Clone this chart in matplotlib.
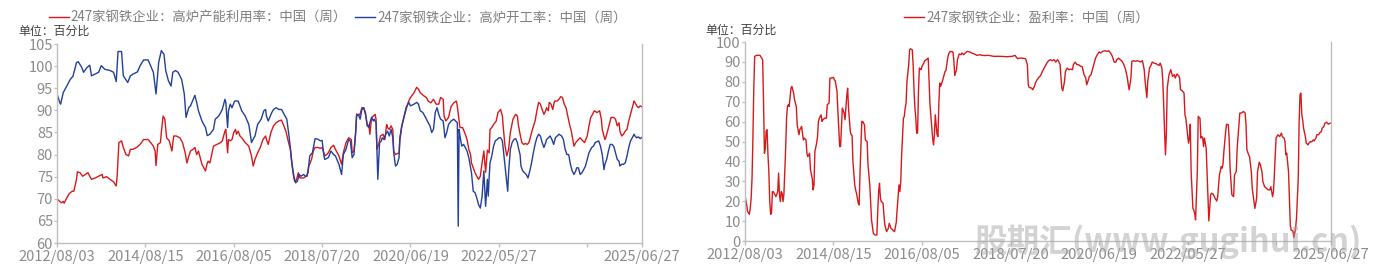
import matplotlib
matplotlib.use('Agg')
import matplotlib.pyplot as plt

plt.rcParams['font.family'] = ['Noto Sans CJK SC', 'DejaVu Sans']

# x is the weekly observation number counted from 2012/08/03
tick_pos = [0, 100, 200, 300, 400, 500, 600, 662]
tick_labels = ['2012/08/03', '2014/08/15', '2016/08/05', '2018/07/20',
               '2020/06/19', '2022/05/27', '', '2025/06/27']

# 247家钢铁企业：高炉产能利用率 (red)
util_x = [0, 3, 5, 7, 8, 11, 14, 17, 19, 22, 23, 26, 29, 32, 35, 37, 39, 43, 47, 51, 52, 56, 60, 64, 67, 68,
          70, 73, 75, 78, 81, 83, 86, 90, 94, 98, 103, 106, 109, 111, 112, 114, 117, 118, 120, 122, 124, 127,
          130, 132, 135, 139, 142, 145, 147, 149, 151, 154, 156, 158, 160, 164, 168, 170, 171, 173, 175, 177,
          181, 185, 187, 190, 191, 193, 194, 196, 198, 200, 202, 203, 205, 207, 209, 213, 217, 219, 220, 222,
          224, 227, 230, 233, 236, 237, 239, 242, 245, 248, 251, 254, 256, 259, 262, 264, 266, 268, 269, 271,
          273, 275, 279, 282, 284, 285, 288, 290, 292, 295, 298, 300, 303, 305, 307, 310, 313, 315, 319, 322,
          324, 327, 330, 333, 334, 336, 338, 339, 341, 343, 345, 347, 349, 351, 353, 354, 356, 358, 360, 361,
          362, 364, 366, 369, 371, 373, 374, 376, 378, 380, 381, 383, 387, 388, 390, 392, 395, 398, 400, 404,
          407, 409, 411, 415, 418, 420, 423, 426, 429, 432, 434, 437, 438, 440, 443, 446, 449, 452, 453, 455,
          456, 459, 462, 464, 466, 468, 469, 471, 473, 475, 477, 479, 481, 483, 485, 487, 489, 490, 492, 494,
          497, 499, 502, 504, 505, 507, 509, 511, 513, 516, 519, 521, 522, 524, 526, 528, 530, 532, 534, 536,
          538, 541, 543, 545, 547, 549, 551, 553, 554, 556, 557, 559, 561, 563, 566, 568, 570, 572, 574, 576,
          578, 580, 582, 584, 585, 587, 590, 592, 595, 597, 600, 602, 604, 605, 608, 611, 614, 616, 617, 620,
          621, 623, 625, 627, 630, 632, 634, 636, 637, 639, 641, 643, 645, 647, 649, 651, 653, 654, 656, 658,
          660, 662]
util_y = [70.0, 69.4, 69.1, 69.4, 69.0, 70.2, 71.2, 71.7, 71.7, 74.4, 76.1, 75.9, 75.1, 75.5, 75.9, 75.1, 74.4,
          74.7, 75.1, 75.5, 74.7, 75.0, 74.4, 73.8, 72.9, 75.1, 82.7, 83.1, 81.6, 80.0, 79.7, 81.2, 81.2, 81.6,
          82.3, 83.4, 83.4, 82.7, 81.9, 80.8, 77.5, 82.3, 82.7, 85.0, 88.7, 88.0, 83.8, 83.1, 80.8, 84.2, 84.2,
          83.8, 82.7, 80.4, 78.1, 79.6, 80.8, 81.2, 81.6, 80.0, 80.8, 77.8, 76.3, 78.1, 78.5, 78.1, 80.0, 81.9,
          82.3, 82.7, 83.1, 85.3, 85.7, 80.4, 83.4, 83.1, 83.4, 85.0, 85.7, 84.6, 85.3, 84.2, 83.8, 82.7, 81.9,
          80.4, 79.7, 77.4, 78.9, 80.4, 81.6, 83.4, 84.2, 83.4, 82.3, 85.0, 86.5, 87.2, 87.6, 87.8, 86.8, 85.3,
          82.7, 81.2, 77.4, 74.7, 73.9, 74.3, 75.9, 74.7, 74.7, 75.1, 75.9, 77.4, 78.9, 80.8, 81.6, 81.6, 81.4,
          81.6, 79.7, 80.0, 80.4, 81.6, 82.1, 81.2, 79.7, 77.8, 80.4, 82.7, 83.8, 83.4, 80.4, 80.8, 85.3, 89.2,
          88.8, 89.2, 90.6, 90.6, 89.1, 86.8, 86.5, 84.6, 88.4, 88.7, 89.1, 88.0, 81.2, 82.3, 84.2, 84.6, 83.4,
          86.8, 86.1, 85.7, 86.5, 85.7, 80.8, 80.0, 80.4, 83.8, 86.5, 88.0, 90.2, 92.1, 92.9, 94.0, 95.2, 94.8,
          94.0, 93.3, 92.9, 92.1, 91.7, 92.5, 91.4, 91.4, 92.9, 92.5, 88.7, 87.6, 88.4, 90.9, 91.7, 92.1, 90.9,
          87.6, 86.1, 86.1, 84.6, 83.4, 81.2, 80.0, 78.1, 77.0, 75.9, 75.1, 74.4, 75.1, 78.1, 80.8, 76.0, 81.0,
          80.4, 85.7, 86.1, 86.8, 87.6, 89.5, 90.2, 88.7, 86.1, 81.9, 79.7, 81.2, 85.0, 88.0, 89.1, 88.7, 86.8,
          84.6, 82.7, 82.3, 82.5, 82.3, 82.7, 84.2, 85.7, 87.6, 89.9, 91.8, 91.4, 90.2, 89.1, 89.9, 90.6, 89.9,
          91.8, 91.4, 90.2, 92.1, 92.1, 92.5, 93.1, 92.9, 91.4, 90.6, 88.7, 86.8, 85.3, 83.1, 81.9, 82.7, 83.4,
          83.8, 83.1, 82.7, 84.2, 86.5, 88.4, 88.7, 89.9, 89.5, 89.9, 88.0, 85.7, 83.4, 83.8, 85.3, 86.8, 88.4,
          88.4, 88.0, 86.5, 87.2, 85.3, 84.2, 84.6, 85.3, 85.7, 87.6, 89.1, 90.6, 92.1, 91.8, 91.0, 90.6, 91.0,
          90.8]

# 247家钢铁企业：高炉开工率 (blue)
blast_x = [0, 3, 4, 7, 11, 15, 18, 22, 24, 28, 30, 34, 37, 39, 43, 47, 50, 54, 60, 64, 67, 69, 73, 75, 80, 83,
           86, 91, 94, 98, 103, 105, 109, 112, 115, 118, 121, 123, 126, 129, 131, 134, 137, 141, 144, 146, 149,
           151, 156, 158, 160, 164, 168, 170, 173, 177, 179, 183, 187, 190, 191, 193, 194, 196, 198, 201, 205,
           207, 209, 213, 217, 219, 220, 222, 224, 227, 231, 234, 236, 237, 239, 243, 245, 248, 251, 254, 258,
           260, 262, 264, 266, 268, 270, 272, 274, 276, 279, 281, 283, 285, 286, 289, 292, 295, 298, 300, 302,
           303, 307, 310, 313, 315, 319, 322, 324, 327, 330, 332, 334, 336, 338, 339, 341, 343, 345, 347, 349,
           351, 353, 354, 356, 358, 359, 361, 362, 363, 365, 367, 368, 370, 372, 374, 376, 378, 380, 381, 383,
           385, 387, 388, 390, 392, 395, 398, 400, 404, 407, 409, 411, 414, 417, 419, 422, 424, 426, 428, 430,
           432, 434, 437, 439, 441, 443, 446, 449, 451, 453, 454, 455, 456, 458, 460, 462, 464, 466, 468, 469,
           471, 473, 475, 477, 479, 481, 483, 485, 487, 488, 489, 490, 492, 494, 496, 498, 500, 502, 504, 505,
           507, 509, 510, 511, 513, 515, 517, 519, 521, 522, 524, 525, 527, 529, 531, 533, 535, 537, 539, 541,
           543, 545, 547, 549, 551, 553, 554, 556, 558, 560, 562, 564, 566, 568, 571, 573, 575, 577, 579, 581,
           583, 585, 587, 588, 590, 592, 594, 596, 598, 600, 602, 605, 607, 609, 613, 615, 617, 619, 620, 622,
           624, 626, 628, 630, 632, 634, 636, 637, 639, 641, 643, 645, 647, 649, 651, 653, 654, 656, 658, 660,
           662]
blast_y = [93.7, 91.8, 91.4, 94.0, 95.5, 97.0, 97.7, 100.8, 101.0, 99.7, 98.6, 99.7, 100.2, 97.8, 98.2, 98.6,
           100.1, 99.3, 99.0, 98.6, 96.5, 103.3, 103.3, 97.8, 96.3, 97.8, 98.2, 98.7, 100.1, 101.4, 101.4, 100.5,
           98.6, 93.7, 100.8, 103.5, 102.7, 99.0, 96.7, 95.5, 98.6, 99.0, 98.6, 97.0, 93.7, 88.4, 90.6, 91.0,
           93.4, 91.8, 89.9, 87.6, 86.1, 84.3, 84.6, 85.7, 88.0, 88.7, 90.2, 92.5, 91.8, 86.1, 89.9, 91.4, 90.6,
           92.1, 92.1, 91.0, 89.9, 88.7, 86.8, 84.2, 82.7, 83.5, 84.2, 86.8, 88.0, 89.9, 90.2, 88.7, 87.6, 89.5,
           90.2, 90.6, 90.2, 90.2, 88.7, 88.0, 85.0, 81.6, 77.8, 75.1, 73.6, 74.0, 75.5, 75.1, 75.5, 75.1, 75.1,
           77.8, 79.7, 80.4, 83.6, 83.5, 83.1, 83.2, 79.7, 78.9, 79.3, 80.8, 80.0, 79.7, 77.8, 75.5, 80.0, 81.2,
           83.4, 83.0, 79.3, 80.0, 85.0, 88.7, 89.1, 88.0, 90.2, 90.6, 89.5, 86.5, 86.1, 87.2, 88.4, 87.6, 88.0,
           87.2, 81.2, 74.4, 82.7, 83.1, 83.8, 83.4, 84.6, 85.3, 84.2, 85.7, 83.8, 80.4, 77.4, 77.8, 79.3, 83.4,
           86.1, 88.0, 90.6, 91.8, 91.0, 91.4, 91.8, 91.4, 89.9, 89.5, 88.4, 87.6, 86.5, 85.0, 85.7, 89.5, 90.6,
           89.1, 88.0, 87.6, 83.8, 85.0, 86.8, 87.6, 88.0, 87.6, 87.2, 63.8, 85.7, 84.2, 81.9, 82.3, 81.6, 80.8,
           79.3, 77.0, 75.9, 71.7, 71.4, 70.2, 68.7, 67.9, 70.5, 76.3, 68.3, 74.4, 70.6, 74.8, 78.1, 79.7, 81.9,
           83.1, 83.4, 83.8, 83.8, 83.1, 81.2, 77.4, 73.6, 71.7, 75.9, 81.2, 82.7, 83.4, 83.6, 82.7, 81.6, 80.0,
           77.4, 76.3, 75.9, 75.5, 74.7, 76.3, 78.1, 80.4, 82.3, 83.8, 84.6, 84.2, 82.7, 81.6, 82.7, 83.4, 83.8,
           84.2, 83.4, 82.3, 83.8, 84.2, 84.6, 84.2, 83.4, 81.2, 80.0, 80.0, 77.8, 76.3, 75.5, 76.3, 77.0, 77.0,
           75.5, 75.9, 76.6, 77.4, 78.9, 80.4, 81.6, 81.9, 82.7, 83.1, 81.9, 80.0, 76.6, 77.8, 78.9, 80.8, 82.3,
           82.3, 81.9, 80.4, 78.9, 78.5, 77.4, 77.8, 77.8, 78.1, 79.7, 81.6, 83.1, 83.8, 84.6, 84.2, 83.8, 84.0,
           83.6, 83.9]

# 247家钢铁企业：盈利率 (red, right panel)
profit_x = [0, 2, 3, 5, 6, 7, 8, 9, 10, 11, 13, 17, 19, 20, 21, 22, 23, 24, 25, 26, 27, 28, 29, 30, 31, 32, 34,
            35, 37, 38, 39, 40, 41, 42, 43, 44, 46, 47, 48, 49, 50, 52, 53, 55, 56, 58, 59, 61, 62, 64, 65, 66,
            67, 69, 70, 71, 73, 74, 76, 77, 78, 79, 81, 82, 83, 84, 86, 87, 88, 90, 92, 93, 95, 96, 98, 100, 101,
            102, 104, 105, 107, 108, 109, 110, 112, 113, 115, 116, 117, 119, 120, 121, 122, 124, 125, 126, 128,
            129, 130, 132, 133, 135, 136, 138, 139, 141, 143, 145, 147, 149, 150, 151, 152, 153, 154, 156, 157,
            158, 160, 162, 163, 165, 167, 169, 171, 172, 174, 175, 176, 177, 179, 180, 181, 182, 183, 185, 186,
            187, 189, 190, 191, 192, 193, 194, 195, 196, 197, 199, 200, 202, 203, 205, 207, 208, 209, 211, 212,
            213, 214, 215, 217, 218, 219, 220, 221, 223, 224, 226, 227, 229, 230, 232, 235, 236, 237, 239, 240,
            242, 244, 245, 247, 249, 251, 254, 256, 259, 262, 265, 268, 271, 275, 281, 288, 296, 302, 305, 308,
            310, 313, 317, 319, 320, 321, 324, 325, 327, 328, 330, 332, 334, 336, 338, 339, 341, 343, 345, 347,
            349, 351, 353, 354, 356, 357, 358, 359, 361, 362, 364, 366, 368, 370, 371, 373, 375, 377, 379, 381,
            383, 385, 386, 388, 389, 391, 392, 394, 396, 398, 400, 402, 404, 407, 409, 411, 413, 415, 417, 419,
            420, 422, 424, 426, 428, 430, 432, 433, 434, 436, 437, 439, 441, 443, 445, 447, 449, 451, 452, 454,
            455, 457, 459, 460, 462, 464, 466, 468, 469, 471, 472, 473, 474, 475, 476, 477, 479, 481, 483, 485,
            486, 488, 490, 491, 492, 494, 496, 497, 498, 499, 501, 502, 503, 504, 506, 507, 508, 509, 511, 512,
            514, 515, 516, 517, 518, 519, 521, 522, 523, 524, 526, 527, 529, 531, 533, 534, 535, 536, 538, 539,
            540, 541, 543, 544, 546, 547, 548, 550, 552, 553, 554, 555, 556, 558, 559, 561, 563, 565, 566, 567,
            569, 570, 572, 573, 575, 576, 578, 579, 581, 582, 584, 585, 587, 589, 591, 593, 594, 596, 597, 598,
            599, 600, 602, 604, 606, 607, 609, 610, 611, 612, 614, 615, 616, 617, 619, 620, 621, 622, 623, 625,
            626, 627, 628, 629, 630, 631, 633, 634, 636, 637, 639, 640, 642, 643, 645, 646, 648, 649, 651, 652,
            654, 655, 657, 659, 661, 662]
profit_y = [23.2, 18.1, 14.8, 13.4, 16.4, 21.5, 31.5, 51.7, 76.8, 92.8, 93.3, 93.3, 91.9, 91.1, 70.0, 44.1,
            46.6, 55.4, 55.9, 43.3, 34.9, 19.8, 13.4, 13.9, 24.8, 24.8, 23.2, 22.3, 24.8, 34.1, 23.2, 19.8, 24.8,
            24.0, 19.8, 23.5, 46.6, 61.7, 67.6, 68.5, 67.6, 76.8, 77.7, 74.3, 71.0, 67.6, 58.4, 53.4, 55.9, 57.6,
            54.2, 50.8, 51.7, 50.8, 44.1, 42.4, 44.1, 35.7, 31.5, 25.7, 28.2, 45.0, 49.2, 52.5, 60.1, 61.7, 63.4,
            60.1, 60.9, 61.7, 61.7, 68.5, 69.3, 81.9, 81.9, 82.2, 81.0, 80.5, 75.2, 65.1, 47.5, 47.5, 56.7, 66.8,
            64.3, 60.9, 72.7, 76.8, 66.8, 55.0, 53.4, 53.0, 39.9, 28.2, 25.7, 24.0, 19.0, 18.1, 34.9, 60.1, 60.1,
            58.4, 50.8, 50.0, 38.3, 28.2, 10.6, 3.9, 3.0, 3.0, 14.8, 24.8, 29.0, 21.5, 19.8, 19.0, 13.1, 8.1, 4.7,
            6.4, 8.9, 6.4, 5.5, 4.7, 9.7, 16.4, 28.2, 24.8, 29.9, 43.3, 61.7, 62.6, 66.8, 69.3, 80.2, 88.6, 96.1,
            96.6, 96.1, 88.6, 75.2, 66.8, 61.7, 54.2, 54.2, 75.2, 86.9, 86.1, 87.8, 89.4, 90.6, 91.1, 91.9, 80.0,
            68.5, 57.6, 51.7, 48.3, 53.4, 63.4, 53.4, 52.5, 68.5, 79.4, 77.7, 80.2, 81.9, 85.2, 85.6, 91.9, 94.0,
            95.3, 95.0, 90.3, 83.2, 86.1, 91.1, 94.0, 93.6, 94.5, 93.6, 94.5, 95.3, 95.0, 94.5, 94.0, 93.3, 93.6,
            93.3, 93.2, 93.3, 92.8, 92.8, 92.6, 92.8, 93.3, 91.6, 91.9, 91.9, 91.6, 88.6, 78.5, 77.2, 76.8, 76.0,
            77.7, 79.4, 81.0, 82.2, 83.2, 85.2, 86.9, 87.8, 89.4, 90.6, 91.1, 90.6, 91.1, 89.9, 91.1, 90.6, 88.6,
            81.9, 76.8, 75.5, 80.2, 85.2, 86.9, 86.1, 86.4, 86.1, 88.6, 89.9, 88.6, 88.6, 87.8, 87.6, 83.6, 81.9,
            78.5, 81.0, 82.7, 83.6, 85.2, 88.6, 91.9, 93.6, 95.0, 94.5, 95.3, 95.6, 95.3, 95.6, 94.5, 92.8, 89.9,
            89.9, 91.1, 91.9, 91.1, 90.3, 88.6, 86.1, 81.9, 78.5, 76.0, 81.9, 90.3, 90.6, 90.3, 90.6, 90.3, 90.0,
            90.6, 86.1, 80.2, 72.1, 80.2, 86.9, 88.6, 89.9, 89.4, 89.2, 88.6, 88.3, 89.4, 86.9, 80.2, 68.5, 55.0,
            43.3, 53.4, 76.8, 83.6, 86.1, 82.7, 83.6, 81.9, 83.9, 83.0, 81.9, 76.0, 75.5, 74.3, 63.4, 61.7, 57.6,
            49.2, 51.7, 58.7, 34.9, 16.4, 15.6, 13.9, 10.6, 34.9, 62.6, 61.7, 51.7, 52.5, 52.0, 47.5, 51.7, 46.6,
            34.9, 23.2, 10.1, 23.2, 24.0, 23.5, 21.5, 20.1, 22.3, 28.2, 33.2, 37.4, 36.6, 38.6, 45.0, 55.0, 58.7,
            58.4, 50.8, 36.6, 23.2, 22.3, 33.2, 34.1, 34.9, 46.6, 58.4, 64.3, 64.3, 65.1, 64.3, 58.4, 45.8, 43.3,
            42.4, 34.9, 26.5, 19.8, 16.4, 21.5, 34.9, 39.6, 38.6, 34.9, 29.9, 27.3, 26.5, 25.7, 25.7, 27.3, 22.3,
            24.8, 33.2, 43.3, 51.7, 53.4, 52.5, 54.2, 52.5, 51.7, 50.0, 43.3, 44.1, 34.9, 21.5, 8.1, 5.5, 5.0, 1.7,
            3.9, 6.4, 11.4, 31.5, 60.1, 73.5, 74.3, 63.4, 60.9, 56.7, 52.5, 49.2, 48.3, 49.2, 50.0, 49.8, 50.8,
            50.3, 51.7, 53.4, 53.4, 54.2, 55.0, 56.7, 57.6, 59.2, 59.7, 58.7, 59.2, 59.2]

RED = '#d7191c'
BLUE = '#22409a'
GRAY = '#8c8c8c'
AXIS = '#bfbfbf'

fig = plt.figure(figsize=(13.78, 2.71), dpi=100)
ax1 = fig.add_axes([0.0414, 0.1033, 0.4245, 0.7343])
ax2 = fig.add_axes([0.5406, 0.1107, 0.4253, 0.7343])


def style_axes(ax):
    for side in ['left', 'bottom', 'right']:
        ax.spines[side].set_color(AXIS)
        ax.spines[side].set_linewidth(1.0)
    ax.spines['top'].set_visible(False)
    ax.set_xlim(0, 662)
    ax.set_xticks(tick_pos)
    ax.set_xticklabels(tick_labels)
    ax.tick_params(axis='x', colors=AXIS, labelcolor=GRAY, labelsize=10.5, length=3, width=1, pad=2)
    ax.tick_params(axis='y', colors=AXIS, labelcolor=GRAY, labelsize=10.5, length=2, width=1, pad=1)


l1, = ax1.plot(util_x, util_y, color=RED, lw=1.0, label='247家钢铁企业：高炉产能利用率：中国（周）')
l2, = ax1.plot(blast_x, blast_y, color=BLUE, lw=1.0, label='247家钢铁企业：高炉开工率：中国（周）')
style_axes(ax1)
ax1.set_ylim(60, 105)
ax1.set_yticks(range(60, 106, 5))
ax1.legend(handles=[l1, l2], loc='center', bbox_to_anchor=(0.245, 0.934), bbox_transform=fig.transFigure,
           ncol=2, frameon=False, fontsize=9.6, handlelength=1.5, handletextpad=0.15, columnspacing=0.6,
           labelcolor='#7f7f7f')

l3, = ax2.plot(profit_x, profit_y, color=RED, lw=1.0, label='247家钢铁企业：盈利率：中国（周）')
style_axes(ax2)
ax2.set_ylim(0, 100)
ax2.set_yticks(range(0, 101, 10))
ax2.legend(handles=[l3], loc='center', bbox_to_anchor=(0.745, 0.934), bbox_transform=fig.transFigure,
           frameon=False, fontsize=9.6, handlelength=1.5, handletextpad=0.15, labelcolor='#7f7f7f')

fig.text(0.013, 0.885, '单位：百分比', fontsize=8.6, color='#404040', va='center')
fig.text(0.512, 0.89, '单位：百分比', fontsize=8.6, color='#404040', va='center')

# watermark
fig.text(0.707, 0.107, '股期汇(www.gugihui.cn)', fontsize=23.5, fontweight='bold', fontstyle='italic',
         color='#a8a8a8', alpha=0.5, va='center', ha='left', zorder=10)

fig.savefig('out.png', dpi=100)
